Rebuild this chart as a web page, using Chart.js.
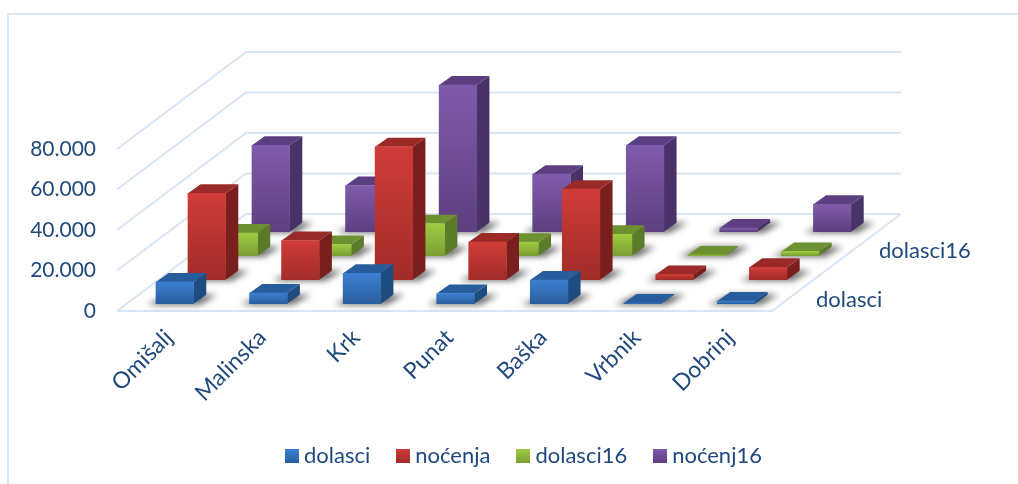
<!DOCTYPE html>
<html>
<head>
<meta charset="utf-8">
<script src="https://cdn.jsdelivr.net/npm/chart.js@4/dist/chart.umd.js"></script>
<style>
  html, body { margin: 0; padding: 0; background: #fff; }
  canvas { display: block; }
</style>
</head>
<body>
<canvas id="myChart" width="1018" height="484"></canvas>
<script>
const labels = ['Omišalj', 'Malinska', 'Krk', 'Punat', 'Baška', 'Vrbnik', 'Dobrinj'];
const dolasci = [10700, 5300, 15000, 5000, 11700, 300, 1300];
const nocenja = [42700, 19300, 65600, 18600, 44700, 2600, 6100];
const dolasci16 = [11200, 5500, 15800, 6700, 10600, 300, 2100];
const nocenj16 = [42700, 22800, 72400, 28400, 42700, 1800, 13500];
const yTicks = [0, 20000, 40000, 60000, 80000];
const depthLabels = ['dolasci', 'dolasci16'];

const textColor = '#1f497d';
const gridColor = '#d8e5f5';
const fontName = 'Lato, Carlito, sans-serif';

// colours per series: front top/bottom, top face, side face
const palette = [
    { hi: '#3c7fd0', lo: '#2a5f9f', top: '#275d9c', side: '#1f4c80' },
    { hi: '#d03c37', lo: '#a22c29', top: '#9a2a27', side: '#79201e' },
    { hi: '#9fcb42', lo: '#7c9e33', top: '#6d9130', side: '#5b7b29' },
    { hi: '#7f5bab', lo: '#5e3f80', top: '#5c3f80', side: '#483268' }
];

// fake 3d: every series sits further back on the floor
const serieDx = 32, serieDy = -24;
const frontDx = 11, frontDy = -7.3;
const barDepthX = 12.7, barDepthY = -9;
const wallDx = 129, wallDy = -97;

function shift(i) {
    return { x: frontDx + i * serieDx, y: frontDy + i * serieDy };
}

function barFill(i) {
    return function(c) {
        if (!c.parsed) return palette[i].hi;
        const y = c.chart.scales.y;
        const g = c.chart.ctx.createLinearGradient(0, y.getPixelForValue(c.parsed.y), 0, y.getPixelForValue(0));
        g.addColorStop(0, palette[i].hi);
        g.addColorStop(1, palette[i].lo);
        return g;
    };
}

// small gradient square for the legend
function legendBox(i) {
    const cnv = document.createElement('canvas');
    cnv.width = 14;
    cnv.height = 14;
    const c = cnv.getContext('2d');
    const g = c.createLinearGradient(0, 0, 0, 14);
    g.addColorStop(0, palette[i].hi);
    g.addColorStop(1, palette[i].lo);
    c.fillStyle = g;
    c.fillRect(0, 0, 14, 14);
    return cnv;
}

const floor3d = {
    id: 'floor3d',
    beforeDatasetsDraw(chart) {
        const { ctx, chartArea, scales } = chart;
        ctx.save();
        // frame
        ctx.strokeStyle = gridColor;
        ctx.lineWidth = 2;
        ctx.beginPath();
        ctx.moveTo(8, 484);
        ctx.lineTo(8, 14);
        ctx.lineTo(1018, 14);
        ctx.stroke();
        // walls
        yTicks.forEach(v => {
            const py = scales.y.getPixelForValue(v);
            ctx.beginPath();
            ctx.moveTo(chartArea.left, py);
            ctx.lineTo(chartArea.left + wallDx, py + wallDy);
            ctx.lineTo(chartArea.right + wallDx, py + wallDy);
            ctx.stroke();
        });
        // floor front and right edge
        const py0 = scales.y.getPixelForValue(0);
        ctx.beginPath();
        ctx.moveTo(chartArea.left, py0);
        ctx.lineTo(chartArea.right, py0);
        ctx.lineTo(chartArea.right + wallDx, py0 + wallDy);
        ctx.stroke();
        // shadows under the bars
        ctx.filter = 'blur(3px)';
        ctx.fillStyle = 'rgba(40,40,40,0.7)';
        chart.data.datasets.forEach((ds, i) => {
            const s = shift(i);
            chart.getDatasetMeta(i).data.forEach(bar => {
                const l = bar.x - bar.width / 2 + s.x, r = bar.x + bar.width / 2 + s.x, b = bar.base + s.y;
                ctx.beginPath();
                ctx.moveTo(l - 9, b + 1);
                ctx.lineTo(r + 6, b + 1);
                ctx.lineTo(r + barDepthX + 11, b + barDepthY);
                ctx.lineTo(l + barDepthX, b + barDepthY);
                ctx.closePath();
                ctx.fill();
            });
        });
        ctx.restore();
        // depth axis labels
        ctx.save();
        ctx.fillStyle = textColor;
        ctx.font = '22px ' + fontName;
        ctx.textBaseline = 'middle';
        ctx.fillText(depthLabels[0], 816, 300);
        ctx.fillText(depthLabels[1], 879, 251);
        ctx.restore();
    },
    beforeDatasetDraw(chart, args) {
        const { ctx } = chart;
        const i = args.index;
        const s = shift(i);
        ctx.save();
        ctx.translate(s.x, s.y);
        // top and side faces, front face comes from the bar itself
        args.meta.data.forEach(bar => {
            const l = bar.x - bar.width / 2, r = bar.x + bar.width / 2;
            ctx.fillStyle = palette[i].side;
            ctx.beginPath();
            ctx.moveTo(r, bar.y);
            ctx.lineTo(r + barDepthX, bar.y + barDepthY);
            ctx.lineTo(r + barDepthX, bar.base + barDepthY);
            ctx.lineTo(r, bar.base);
            ctx.closePath();
            ctx.fill();
            ctx.fillStyle = palette[i].top;
            ctx.beginPath();
            ctx.moveTo(l, bar.y);
            ctx.lineTo(l + barDepthX, bar.y + barDepthY);
            ctx.lineTo(r + barDepthX, bar.y + barDepthY);
            ctx.lineTo(r, bar.y);
            ctx.closePath();
            ctx.fill();
        });
    },
    afterDatasetDraw(chart) {
        chart.ctx.restore();
    }
};

function makeSet(label, data, i) {
    return {
        label: label,
        data: data,
        backgroundColor: barFill(i),
        borderWidth: 0,
        barThickness: 37.6,
        grouped: false,
        clip: false
    };
}

const ctx = document.getElementById('myChart').getContext('2d');
const myChart = new Chart(ctx, {
    type: 'bar',
    data: {
        labels: labels,
        datasets: [
            makeSet('dolasci', dolasci, 0),
            makeSet('noćenja', nocenja, 1),
            makeSet('dolasci16', dolasci16, 2),
            makeSet('noćenj16', nocenj16, 3)
        ]
    },
    plugins: [floor3d],
    options: {
        responsive: false,
        animation: false,
        layout: { padding: { left: 24, top: 149, right: -10, bottom: 7 } },
        plugins: {
            tooltip: { enabled: false },
            legend: {
                position: 'bottom',
                labels: {
                    color: textColor,
                    font: { family: fontName, size: 22 },
                    usePointStyle: true,
                    boxWidth: 3,
                    boxHeight: 14,
                    padding: 31,
                    generateLabels(chart) {
                        return chart.data.datasets.map((ds, i) => ({
                            text: ds.label,
                            pointStyle: legendBox(i),
                            datasetIndex: i,
                            fontColor: textColor,
                            lineWidth: 0
                        }));
                    }
                }
            }
        },
        scales: {
            x: {
                grid: { display: false },
                border: { display: false },
                ticks: {
                    color: textColor,
                    font: { family: fontName, size: 23 },
                    maxRotation: 45,
                    minRotation: 45,
                    labelOffset: 5,
                    padding: 5,
                    autoSkip: false
                },
                afterFit(s) { s.height = 103; }
            },
            y: {
                min: 0,
                max: 80000,
                afterBuildTicks(s) { s.ticks = yTicks.map(v => ({ value: v })); },
                grid: { display: false },
                border: { display: false },
                ticks: {
                    color: textColor,
                    font: { family: fontName, size: 21 },
                    padding: 13,
                    labelOffset: 0,
                    callback: v => String(v).replace(/\B(?=(\d{3})+$)/g, '.')
                },
                afterFit(s) { s.width = 93; }
            },
            // empty space on the right for the receding floor
            depth: {
                axis: 'y',
                position: 'right',
                grid: { display: false },
                border: { display: false },
                ticks: { display: false },
                afterFit(s) { s.width = 256; }
            }
        }
    }
});
</script>
</body>
</html>
